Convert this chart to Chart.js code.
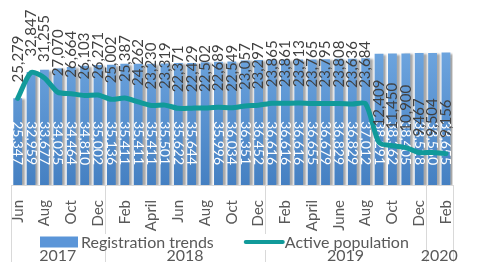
<!DOCTYPE html>
<html><head><meta charset="utf-8">
<script src="https://cdn.jsdelivr.net/npm/chart.js@4"></script>
<style>html,body{margin:0;padding:0;background:#fff}#wrap{width:479px;height:262px;position:relative}</style>
</head><body><div id="wrap"><canvas id="c"></canvas></div>
<script>
const months = ['Jun','Jul','Aug','Sep','Oct','Nov','Dec',
  'Jan','Feb','Mar','April','May','Jun','Jul','Aug','Sep','Oct','Nov','Dec',
  'Jan','Feb','Mar','April','May','June','Jul','Aug','Sep','Oct','Nov','Dec',
  'Jan','Feb'];
const registration = [25347,32959,33677,34025,34464,34810,35002,
  35136,35411,35411,35411,35501,35622,35644,35800,35996,36034,36351,36452,
  36616,36616,36616,36655,36679,36829,36829,37012,38291,38362,38405,38528,38560,38655];
const activePopulation = [25279,32847,31255,27070,26664,26103,26271,
  25002,25387,24262,23230,23319,22371,22429,22502,22689,22549,23057,23297,
  23865,23861,23913,23765,23795,23808,23636,23684,12409,11450,10900,9467,9504,9156];
const years = ['2017','2018','2019','2020'];
const yearMonthCounts = [7,12,12,2];
const unlabeledBars = [14];

const FONT = 'Lato, "Liberation Sans", sans-serif';
const BAR_COLOR = '#5a95d8', LINE_COLOR = '#119a9a', TEXT = '#595959';
const fmt = v => v.toLocaleString('en-US');

const deco = {
  id: 'deco',
  beforeDraw(chart) {
    const ctx = chart.ctx, x = chart.scales.x, a = chart.chartArea;
    const half = (x.getPixelForValue(1) - x.getPixelForValue(0)) / 2;
    ctx.save();
    ctx.strokeStyle = '#d9d9d9'; ctx.lineWidth = 1;
    let idx = 0;
    const edges = [0];
    yearMonthCounts.forEach(n => { idx += n; edges.push(idx); });
    edges.forEach(e => {
      const px = Math.round(x.getPixelForValue(e) - half) + 0.5;
      ctx.beginPath(); ctx.moveTo(px, a.bottom); ctx.lineTo(px, chart.height); ctx.stroke();
    });
    ctx.restore();
  },
  beforeDatasetDraw(chart, args) {
    if (args.index !== 0) return;
    const ctx = chart.ctx;
    ctx.save();
    ctx.shadowColor = 'rgba(0,0,0,0.34)';
    ctx.shadowOffsetX = 3; ctx.shadowOffsetY = 1; ctx.shadowBlur = 2;
  },
  afterDatasetDraw(chart, args) {
    if (args.index !== 0) return;
    const ctx = chart.ctx;
    ctx.restore();
    const y0 = chart.scales.y.getPixelForValue(0);
    ctx.save();
    ctx.fillStyle = '#ffffff'; ctx.font = '14px ' + FONT;
    ctx.textAlign = 'right'; ctx.textBaseline = 'middle';
    args.meta.data.forEach((bar, i) => {
      if (unlabeledBars.includes(i)) return;
      ctx.save(); ctx.translate(bar.x, y0 - 20); ctx.rotate(Math.PI / 2);
      ctx.fillText(fmt(registration[i]), 0, 0); ctx.restore();
    });
    ctx.restore();
  },
  afterDatasetsDraw(chart) {
    const ctx = chart.ctx, meta = chart.getDatasetMeta(1);
    ctx.save();
    ctx.fillStyle = '#404040'; ctx.font = '15px ' + FONT;
    ctx.textAlign = 'left'; ctx.textBaseline = 'middle';
    meta.data.forEach((pt, i) => {
      const t = fmt(activePopulation[i]);
      const w = ctx.measureText(t).width;
      let base = pt.y - 16;
      if (base - w < 1) base = w + 1;
      ctx.save(); ctx.translate(pt.x, base); ctx.rotate(-Math.PI / 2);
      ctx.fillText(t, 0, 0); ctx.restore();
    });
    ctx.restore();
  },
  afterDraw(chart) {
    const ctx = chart.ctx, x = chart.scales.x;
    const half = (x.getPixelForValue(1) - x.getPixelForValue(0)) / 2;
    ctx.save();
    // year row
    ctx.fillStyle = TEXT; ctx.font = '16px ' + FONT;
    ctx.textAlign = 'center'; ctx.textBaseline = 'alphabetic';
    let idx = 0;
    years.forEach((yr, k) => {
      const l = x.getPixelForValue(idx) - half;
      idx += yearMonthCounts[k];
      const r = x.getPixelForValue(idx - 1) + half;
      ctx.fillText(yr, (l + r) / 2, chart.height - 1);
    });
    // legend
    const items = chart.data.datasets.map(d => ({ text: d.label, type: d.type }));
    let lx = 40; const ly = 242;
    ctx.textAlign = 'left'; ctx.textBaseline = 'middle'; ctx.font = '16px ' + FONT;
    items.forEach(it => {
      const tw = ctx.measureText(it.text).width;
      ctx.fillStyle = '#fff';
      ctx.fillRect(lx - 1, ly - 8, 38 + 3 + tw + 2, 16);
      if (it.type === 'bar') {
        ctx.fillStyle = BAR_COLOR; ctx.fillRect(lx, ly - 5.5, 38, 11);
      } else {
        ctx.strokeStyle = LINE_COLOR; ctx.lineWidth = 4; ctx.lineCap = 'round';
        ctx.beginPath(); ctx.moveTo(lx + 2, ly); ctx.lineTo(lx + 39, ly); ctx.stroke();
      }
      ctx.fillStyle = TEXT;
      ctx.fillText(it.text, lx + 41, ly + 1);
      lx += 41 + tw + 30;
    });
    ctx.restore();
  }
};

new Chart(document.getElementById('c'), {
  data: {
    labels: months,
    datasets: [
      {
        type: 'bar', label: 'Registration trends', data: registration, order: 2,
        backgroundColor: (c) => {
          const a = c.chart.chartArea;
          if (!a) return BAR_COLOR;
          const g = c.chart.ctx.createLinearGradient(0, a.top, 0, a.bottom);
          g.addColorStop(0, '#7cb2e9'); g.addColorStop(1, '#4580c2');
          return g;
        },
        barPercentage: 0.66, categoryPercentage: 1
      },
      {
        type: 'line', label: 'Active population', data: activePopulation, order: 1,
        borderColor: LINE_COLOR, borderWidth: 5, pointRadius: 0, tension: 0.25,
        borderCapStyle: 'round', borderJoinStyle: 'round', fill: false
      }
    ]
  },
  options: {
    responsive: true, maintainAspectRatio: false, animation: false, devicePixelRatio: 1,
    layout: { padding: { left: 11, right: 3, top: 0, bottom: 0 } },
    scales: {
      x: {
        afterFit: (s) => { s.height = 77; },
        grid: { display: true, drawOnChartArea: false, drawTicks: false },
        border: { display: true, color: '#d9d9d9', width: 1 },
        ticks: {
          autoSkip: false, minRotation: 90, maxRotation: 90, padding: 15,
          color: TEXT, font: { family: FONT, size: 15 },
          callback: function (v, i) { return i % 2 === 0 ? months[i] : ''; }
        }
      },
      y: { display: false, min: 0, max: 54000 }
    },
    plugins: {
      tooltip: { enabled: false },
      legend: { display: false }
    }
  },
  plugins: [deco]
});
</script>
</body></html>
